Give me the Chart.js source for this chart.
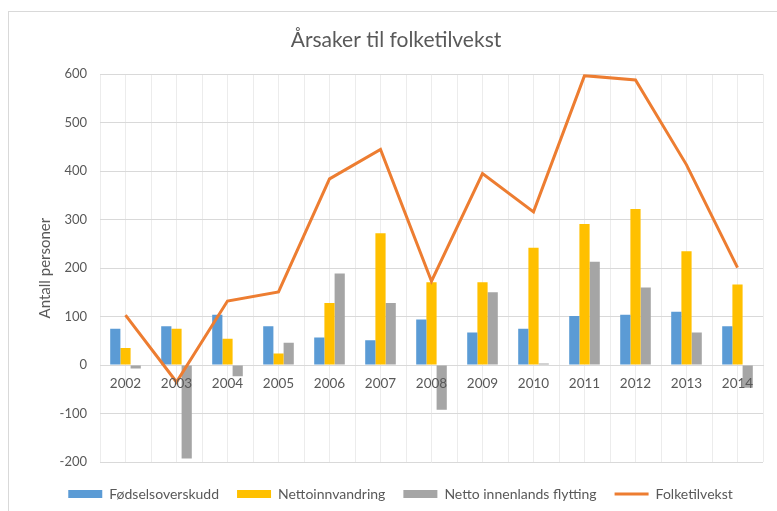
<!DOCTYPE html>
<html>
<head>
<meta charset="utf-8">
<script src="https://cdn.jsdelivr.net/npm/chart.js@4.4.0/dist/chart.umd.min.js"></script>
<style>
    html, body { margin: 0; padding: 0; background: #fff; }
    #wrap { position: relative; width: 777px; height: 511px; overflow: hidden; }
    #frame { position: absolute; left: 8px; top: 11px; width: 800px; height: 540px; border-left: 1px solid #d9d9d9; border-top: 1px solid #d9d9d9; }
    canvas { position: absolute; left: 0; top: 0; }
</style>
</head>
<body>
<div id="wrap">
    <div id="frame"></div>
    <canvas id="chart" width="777" height="511"></canvas>
</div>
<script>
// Data
const years = ["2002", "2003", "2004", "2005", "2006", "2007", "2008", "2009", "2010", "2011", "2012", "2013", "2014"];
const fodselsoverskudd = [75, 80, 104, 80, 57, 51, 94, 67, 75, 101, 104, 110, 80];
const nettoinnvandring = [35, 75, 54, 24, 128, 272, 171, 171, 242, 291, 322, 235, 166];
const innenlandsFlytting = [-7, -193, -23, 46, 189, 128, -92, 150, 3, 213, 160, 67, -47];
const folketilvekst = [103, -35, 132, 151, 384, 445, 173, 395, 316, 597, 588, 413, 201];
const yTicks = { min: -200, max: 600, step: 100 };

const textColor = "#595959";
Chart.defaults.font.family = "Lato, 'Open Sans', sans-serif";
Chart.defaults.color = textColor;

// title and legend in the original sit centred on the outer frame, not on the canvas
const shiftBlocks = {
    id: "shiftBlocks",
    afterLayout(chart) {
        if (chart.titleBlock) {
            chart.titleBlock.left = 15;
            chart.titleBlock.right = 777;
        }
        if (chart.legend) {
            chart.legend.left += 19;
            chart.legend.right += 19;
        }
    }
};

const ctx = document.getElementById("chart").getContext("2d");

new Chart(ctx, {
    type: "bar",
    data: {
        labels: years,
        datasets: [
            { label: "Fødselsoverskudd", data: fodselsoverskudd, backgroundColor: "#5B9BD5", order: 1 },
            { label: "Nettoinnvandring", data: nettoinnvandring, backgroundColor: "#FFC000", order: 1 },
            { label: "Netto innenlands flytting", data: innenlandsFlytting, backgroundColor: "#A5A5A5", order: 1 },
            {
                type: "line",
                label: "Folketilvekst",
                data: folketilvekst,
                borderColor: "#ED7D31",
                backgroundColor: "#ED7D31",
                borderWidth: 3,
                pointRadius: 0,
                tension: 0,
                order: 0
            }
        ]
    },
    plugins: [shiftBlocks],
    options: {
        responsive: false,
        animation: false,
        layout: { padding: { left: 0, right: 14, top: 0, bottom: 0 } },
        datasets: {
            bar: { categoryPercentage: 0.6, barPercentage: 1.0 }
        },
        plugins: {
            title: {
                display: true,
                text: "Årsaker til folketilvekst",
                color: textColor,
                font: { size: 21, weight: "normal" },
                padding: { top: 28, bottom: 21 }
            },
            legend: {
                position: "bottom",
                labels: {
                    usePointStyle: true,
                    pointStyleWidth: 34,
                    boxHeight: 8,
                    padding: 18,
                    color: textColor,
                    font: { size: 14 },
                    sort: (a, b) => a.datasetIndex - b.datasetIndex,
                    generateLabels: function (chart) {
                        const items = Chart.defaults.plugins.legend.labels.generateLabels(chart);
                        items.forEach(item => {
                            const ds = chart.data.datasets[item.datasetIndex];
                            item.pointStyle = ds.type === "line" ? "line" : "rect";
                            if (ds.type !== "line") item.lineWidth = 0;
                        });
                        return items;
                    }
                }
            },
            tooltip: { enabled: false }
        },
        scales: {
            x: {
                position: { y: 0 },
                offset: true,
                grid: { offset: true, color: "#ececec", drawTicks: false },
                border: { display: true, color: "#d9d9d9" },
                ticks: { color: textColor, font: { size: 13.5 }, padding: 10, maxRotation: 0, autoSkip: false, z: 1 }
            },
            // second category axis: half-step vertical gridlines and spacer above the legend
            x2: {
                type: "category",
                labels: years,
                position: "bottom",
                offset: true,
                grid: { offset: false, color: "#ececec", drawTicks: false },
                border: { display: false },
                ticks: { display: false },
                afterFit: function (scale) { scale.height = 7; }
            },
            y: {
                min: yTicks.min,
                max: yTicks.max,
                ticks: { stepSize: yTicks.step, color: textColor, font: { size: 13 }, padding: 13 },
                grid: { color: "#d9d9d9", drawTicks: false },
                border: { display: false },
                title: {
                    display: true,
                    text: "Antall personer",
                    color: textColor,
                    font: { size: 15 },
                    padding: { top: 36, bottom: 0 }
                },
                afterFit: function (scale) { scale.width = 100; }
            }
        }
    }
});
</script>
</body>
</html>
